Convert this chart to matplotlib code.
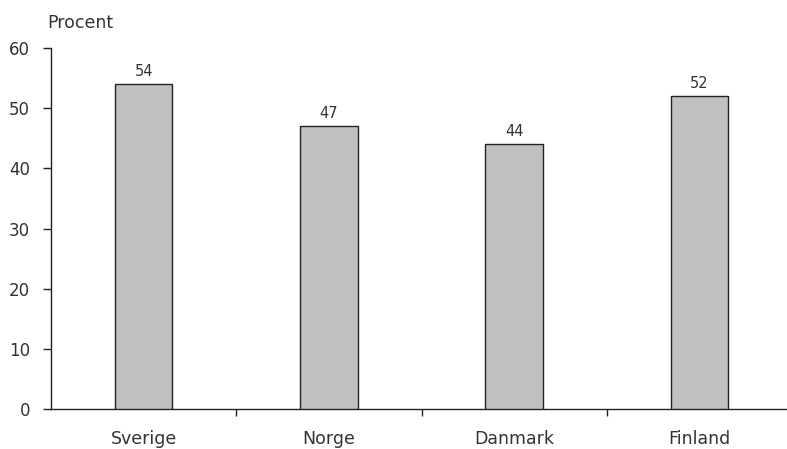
import matplotlib
matplotlib.use("Agg")
import matplotlib.pyplot as plt

categories = ["Sverige", "Norge", "Danmark", "Finland"]
values = [54, 47, 44, 52]
yticks = [0, 10, 20, 30, 40, 50, 60]

plt.rcParams['font.family'] = ['DejaVu Sans']

W, H = 787, 449
fig = plt.figure(figsize=(W / 100, H / 100), dpi=100)
left, right, bottom, top = 51, 787, 409, 48
ax = fig.add_axes([left / W, 1 - bottom / H, (right - left) / W, (bottom - top) / H])

x = list(range(len(categories)))
bars = ax.bar(x, values, width=0.31, color="#c0c0c0", edgecolor="#222222", linewidth=1.0, zorder=3)
for xi, v in zip(x, values):
    ax.annotate(str(v), (xi, v), xytext=(0, 4), textcoords="offset points",
                ha="center", va="bottom", fontsize=10.5, color="#333333")

ax.set_ylim(0, 60)
ax.set_xlim(-0.5, 3.5 - 5 / 185)
ax.set_yticks(yticks)
ax.set_yticklabels([str(t) for t in yticks], fontsize=12, color="#333333")
ax.tick_params(axis="y", direction="out", length=6, width=1, pad=9, color="#222222")

ax.set_xticks([0.5, 1.5, 2.5])
ax.set_xticklabels([])
ax.tick_params(axis="x", which="major", direction="out", length=5, width=1, color="#222222")
ax.set_xticks(x, minor=True)
ax.set_xticklabels(categories, minor=True, fontsize=12.5, color="#333333")
ax.tick_params(axis="x", which="minor", length=0, pad=15)

for s in ["top", "right"]:
    ax.spines[s].set_visible(False)
for s in ["left", "bottom"]:
    ax.spines[s].set_color("#222222")
    ax.spines[s].set_linewidth(1)

fig.text(47 / W, 1 - 28 / H, "Procent", fontsize=12.5, color="#333333", ha="left", va="baseline")

fig.savefig("out.png", dpi=100)
